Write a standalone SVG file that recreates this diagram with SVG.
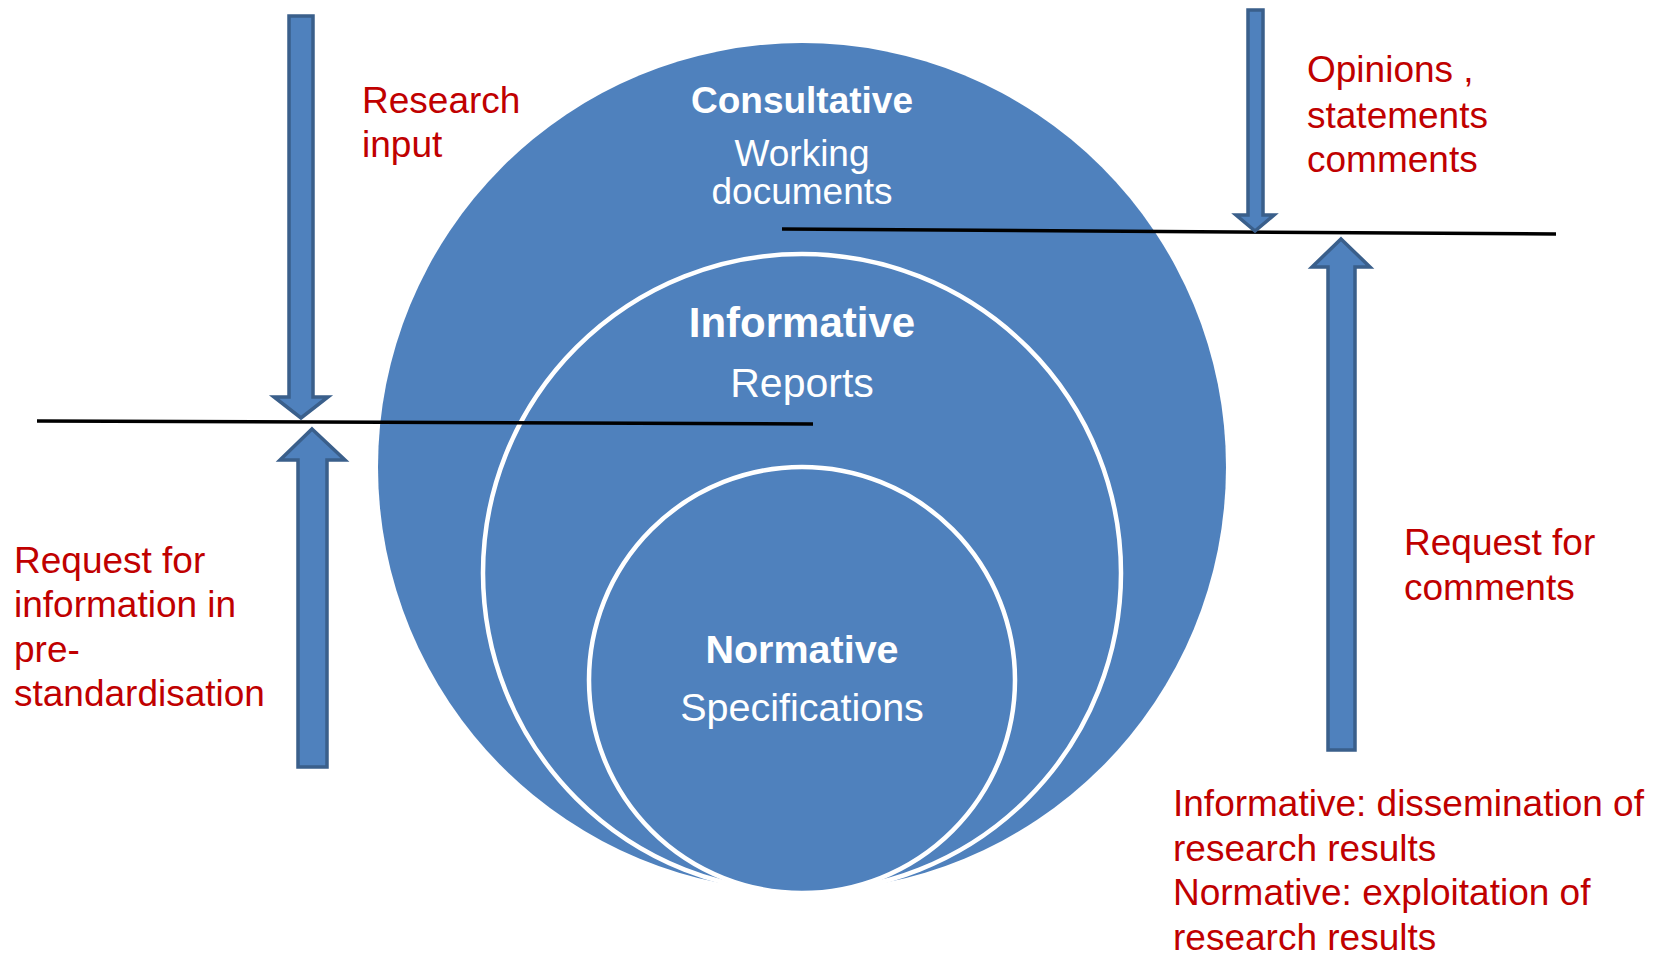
<svg xmlns="http://www.w3.org/2000/svg" width="1655" height="953" viewBox="0 0 1655 953">
<style>
.circ{fill:#4F81BD}
.inner{fill:#4F81BD;stroke:#FFFFFF;stroke-width:4.5}
.arrow{fill:#4F81BD;stroke:#3A5F8B;stroke-width:3.5;stroke-linejoin:miter}
.sep{stroke:#000000;stroke-width:3.5;fill:none}
.lbl{font-family:"Liberation Sans",Arial,sans-serif;font-size:37px;fill:#C00000}
.wt{font-family:"Liberation Sans",Arial,sans-serif;fill:#FFFFFF;text-anchor:middle}
.b{font-weight:bold}
</style>
<rect width="1655" height="953" fill="#FFFFFF"/>
<g id="consultative">
<circle class="circ" cx="802" cy="467" r="424"/>
<text class="wt b" x="802" y="113" font-size="37">Consultative</text>
<text class="wt" x="802" y="166" font-size="37">Working</text>
<text class="wt" x="802" y="204" font-size="37">documents</text>
</g>
<g id="informative">
<circle class="inner" cx="802" cy="573" r="319"/>
<text class="wt b" x="802" y="337" font-size="42">Informative</text>
<text class="wt" x="802" y="397" font-size="41">Reports</text>
</g>
<g id="normative">
<circle class="inner" cx="802" cy="680" r="213"/>
<text class="wt b" x="802" y="663" font-size="39.5">Normative</text>
<text class="wt" x="802" y="721" font-size="39.5">Specifications</text>
</g>
<g id="connectors">
<line class="sep" x1="37" y1="421" x2="813" y2="424"/>
<line class="sep" x1="782" y1="229" x2="1556" y2="234"/>
<polygon class="arrow" points="289,16 313,16 313,397 328,397 301,418 274,397 289,397"/>
<polygon class="arrow" points="312,429 345,460 327,460 327,767 298,767 298,460 280,460"/>
<polygon class="arrow" points="1248,10 1263,10 1263,215 1274,215 1255,231 1236,215 1248,215"/>
<polygon class="arrow" points="1341,239 1370,267 1355,267 1355,750 1328,750 1328,267 1312,267"/>
</g>
<g id="label-research-input">
<text class="lbl" x="362" y="113">Research</text>
<text class="lbl" x="362" y="157">input</text>
</g>
<g id="label-request-info">
<text class="lbl" x="14" y="573">Request for</text>
<text class="lbl" x="14" y="617">information in</text>
<text class="lbl" x="14" y="662">pre-</text>
<text class="lbl" x="14" y="706">standardisation</text>
</g>
<g id="label-opinions">
<text class="lbl" x="1307" y="82">Opinions ,</text>
<text class="lbl" x="1307" y="128">statements</text>
<text class="lbl" x="1307" y="172">comments</text>
</g>
<g id="label-request-comments">
<text class="lbl" x="1404" y="555">Request for</text>
<text class="lbl" x="1404" y="600">comments</text>
</g>
<g id="label-results">
<text class="lbl" x="1173" y="816">Informative: dissemination of</text>
<text class="lbl" x="1173" y="861">research results</text>
<text class="lbl" x="1173" y="905">Normative: exploitation of</text>
<text class="lbl" x="1173" y="950">research results</text>
</g>
</svg>
